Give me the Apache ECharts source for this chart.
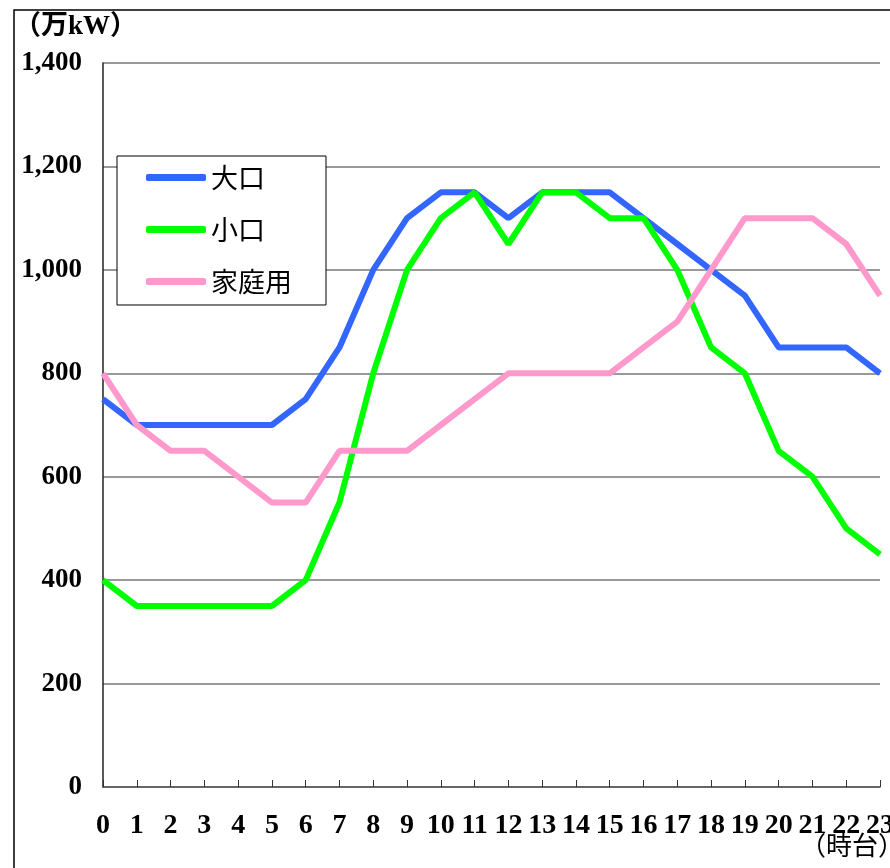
<!DOCTYPE html>
<html>
<head>
<meta charset="utf-8">
<script src="https://cdn.jsdelivr.net/npm/echarts@6/dist/echarts.min.js"></script>
<style>
  * { margin: 0; padding: 0; }
  html, body { background: #fff; overflow: hidden; }
</style>
</head>
<body>
<!-- チャート用のコンテナ -->
<div id="main" style="width:890px;height:868px;"></div>
<script>
var hours = ['0','1','2','3','4','5','6','7','8','9','10','11','12','13','14','15','16','17','18','19','20','21','22','23'];
var ookuchi = [750,700,700,700,700,700,750,850,1000,1100,1150,1150,1100,1150,1150,1150,1100,1050,1000,950,850,850,850,800];
var koguchi = [400,350,350,350,350,350,400,550,800,1000,1100,1150,1050,1150,1150,1100,1100,1000,850,800,650,600,500,450];
var katei = [800,700,650,650,600,550,550,650,650,650,700,750,800,800,800,800,850,900,1000,1100,1100,1100,1050,950];

var serif = '"Liberation Serif", "Noto Sans CJK JP", serif';
var sans = '"Noto Sans CJK JP", sans-serif';

var chart = echarts.init(document.getElementById('main'));
var option = {
  animation: false,
  backgroundColor: '#fff',
  grid: { left: 103, right: 10, top: 63, bottom: 81, outerBoundsMode: 'none', containLabel: false },
  legend: {
    orient: 'vertical',
    left: 117,
    top: 156,
    padding: [8, 34, 10, 29],
    itemGap: 25,
    itemWidth: 60,
    itemHeight: 7,
    icon: 'roundRect',
    borderColor: '#000',
    borderWidth: 1,
    backgroundColor: '#fff',
    textStyle: { fontFamily: sans, fontSize: 27, color: '#000' },
    data: ['大口', '小口', '家庭用']
  },
  graphic: [
    { type: 'rect', shape: { x: 14, y: 10, width: 900, height: 900 }, style: { fill: 'none', stroke: '#000', lineWidth: 1.5 }, z: 0 },
    { type: 'text', left: 14, top: 14, style: { text: '（万kW）', font: 'bold 27px ' + serif, fill: '#000' } },
    { type: 'text', left: 800, top: 832, style: { text: '（時台）', font: '26px ' + sans, fill: '#000' } }
  ],
  xAxis: {
    type: 'category',
    data: hours,
    boundaryGap: false,
    axisLine: { lineStyle: { color: '#555', width: 1.5 } },
    axisTick: { inside: true, length: 7, lineStyle: { color: '#333' } },
    axisLabel: { interval: 0, margin: 25, fontFamily: serif, fontWeight: 'bold', fontSize: 28, color: '#000' },
    splitLine: { show: false }
  },
  yAxis: {
    type: 'value',
    min: 0,
    max: 1400,
    interval: 200,
    axisLine: { show: true, lineStyle: { color: '#222', width: 1.5 } },
    axisTick: { show: false },
    axisLabel: {
      margin: 21, fontFamily: serif, fontWeight: 'bold', fontSize: 27, color: '#000',
      formatter: function (v) { return v.toLocaleString('en-US'); }
    },
    splitLine: { lineStyle: { color: '#777', width: 1.5 } }
  },
  series: [
    { name: '大口', type: 'line', data: ookuchi, showSymbol: false, color: '#3366ff', lineStyle: { width: 6 } },
    { name: '小口', type: 'line', data: koguchi, showSymbol: false, color: '#00ff00', lineStyle: { width: 6 } },
    { name: '家庭用', type: 'line', data: katei, showSymbol: false, color: '#ff99cc', lineStyle: { width: 6 } }
  ]
};
chart.setOption(option);
</script>
</body>
</html>
